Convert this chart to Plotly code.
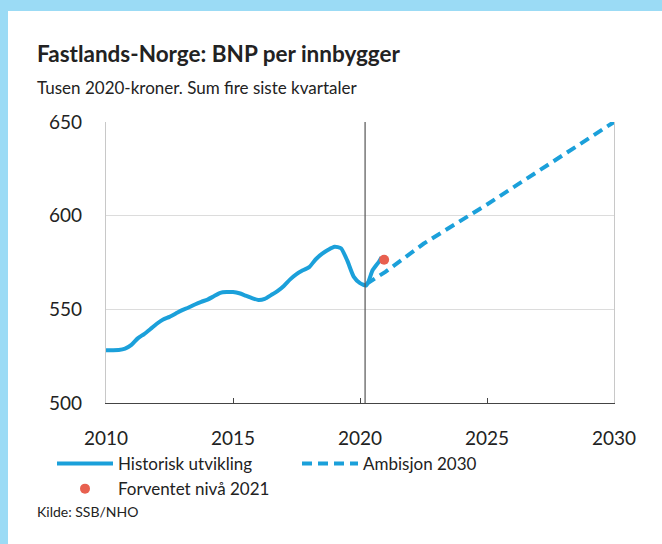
import plotly.graph_objects as go

# ---- data ----
hist_years = [2010.0, 2010.25, 2010.5, 2010.75, 2011.0, 2011.25, 2011.5, 2011.75,
              2012.0, 2012.25, 2012.5, 2012.75, 2013.0, 2013.25, 2013.5, 2013.75,
              2014.0, 2014.25, 2014.5, 2014.75, 2015.0, 2015.25, 2015.5, 2015.75,
              2016.0, 2016.25, 2016.5, 2016.75, 2017.0, 2017.25, 2017.5, 2017.75,
              2018.0, 2018.25, 2018.5, 2018.75, 2019.0, 2019.25, 2019.5, 2019.75,
              2020.0, 2020.25, 2020.5, 2020.75, 2020.85]
hist_values = [528.2, 528.2, 528.3, 529.0, 531.0, 534.5, 536.8, 539.5,
               542.3, 544.6, 546.0, 547.8, 549.6, 551.0, 552.6, 554.0,
               555.2, 557.0, 558.8, 559.2, 559.2, 558.6, 557.3, 556.0,
               555.0, 555.6, 557.6, 559.7, 562.5, 566.0, 568.8, 570.8,
               572.5, 576.6, 579.6, 581.8, 583.4, 582.6, 576.0, 567.5,
               564.0, 562.8, 571.0, 575.5, 577.8]

amb_years = [2020.25, 2021.0, 2022.5, 2025.0, 2027.5, 2030.0]
amb_values = [563.5, 570.0, 585.0, 606.0, 628.0, 650.0]

exp_year = [2020.95]
exp_value = [576.5]

x_ticks = [2010, 2015, 2020, 2025, 2030]
y_ticks = [500, 550, 600, 650]
marker_year = 2020.2

title = "Fastlands-Norge: BNP per innbygger"
subtitle = "Tusen 2020-kroner. Sum fire siste kvartaler"
source = "Kilde: SSB/NHO"

BLUE = "#1BA0DA"
RED = "#E8604F"
FRAME = "#9BDBF5"
FONT = "Lato, sans-serif"

W, H = 662, 544
L, R, T, B = 106, 48, 122, 141
PW, PH = W - L - R, H - T - B


def xp(px):
    return (px - L) / PW


def yp(py):
    return (H - B - py) / PH


fig = go.Figure()
fig.add_trace(go.Scatter(x=hist_years, y=hist_values, mode="lines",
                         name="Historisk utvikling",
                         line=dict(color=BLUE, width=4, shape="spline", smoothing=0.6)))
fig.add_trace(go.Scatter(x=amb_years, y=amb_values, mode="lines",
                         name="Ambisjon 2030",
                         line=dict(color=BLUE, width=4, dash="10px,6px")))
fig.add_trace(go.Scatter(x=exp_year, y=exp_value, mode="markers",
                         name="Forventet nivå 2021",
                         marker=dict(color=RED, size=10)))

shapes = [
    dict(type="rect", xref="paper", yref="paper", x0=xp(0), x1=xp(W), y0=yp(11), y1=yp(0),
         fillcolor=FRAME, line=dict(width=0), layer="above"),
    dict(type="rect", xref="paper", yref="paper", x0=xp(0), x1=xp(8), y0=yp(H), y1=yp(0),
         fillcolor=FRAME, line=dict(width=0), layer="above"),
    dict(type="line", xref="x", yref="paper", x0=marker_year, x1=marker_year, y0=0, y1=1,
         line=dict(color="#555555", width=1.2)),
]

annotations = [
    dict(text="<b>" + title + "</b>", xref="paper", yref="paper", x=xp(35), y=yp(54),
         xanchor="left", yanchor="middle", showarrow=False,
         font=dict(family=FONT, size=22.5, color="#222222")),
    dict(text=subtitle, xref="paper", yref="paper", x=xp(35), y=yp(88),
         xanchor="left", yanchor="middle", showarrow=False,
         font=dict(family=FONT, size=17, color="#222222")),
    dict(text=source, xref="paper", yref="paper", x=xp(35), y=yp(511),
         xanchor="left", yanchor="middle", showarrow=False,
         font=dict(family=FONT, size=14, color="#222222")),
]

fig.update_layout(
    width=W, height=H,
    margin=dict(l=L, r=R, t=T, b=B, autoexpand=False),
    paper_bgcolor="white", plot_bgcolor="white",
    font=dict(family=FONT, size=19, color="#222222"),
    shapes=shapes, annotations=annotations,
    showlegend=True,
    legend=dict(orientation="h", x=xp(52), y=yp(446), xanchor="left", yanchor="top",
                entrywidth=174, entrywidthmode="pixels", itemwidth=56,
                font=dict(family=FONT, size=17, color="#222222"),
                bgcolor="rgba(0,0,0,0)", tracegroupgap=0),
)
fig.update_xaxes(range=[2010, 2030], tickvals=x_ticks, ticks="inside", ticklen=5,
                 tickcolor="#444444", showline=True, linecolor="#444444", linewidth=1.2,
                 showgrid=False, zeroline=False, ticklabelstandoff=18,
                 tickfont=dict(family=FONT, size=19, color="#222222"))
fig.update_yaxes(range=[500, 650], tickvals=y_ticks, ticks="", showline=True,
                 linecolor="#c8c8c8", linewidth=1.2, mirror=True,
                 showgrid=True, gridcolor="#dcdcdc", gridwidth=1, zeroline=False,
                 ticklabelstandoff=19,
                 tickfont=dict(family=FONT, size=19, color="#222222"))

fig.write_html("out.html", config={"displayModeBar": False},
               post_script="document.body.style.margin='0px';")
